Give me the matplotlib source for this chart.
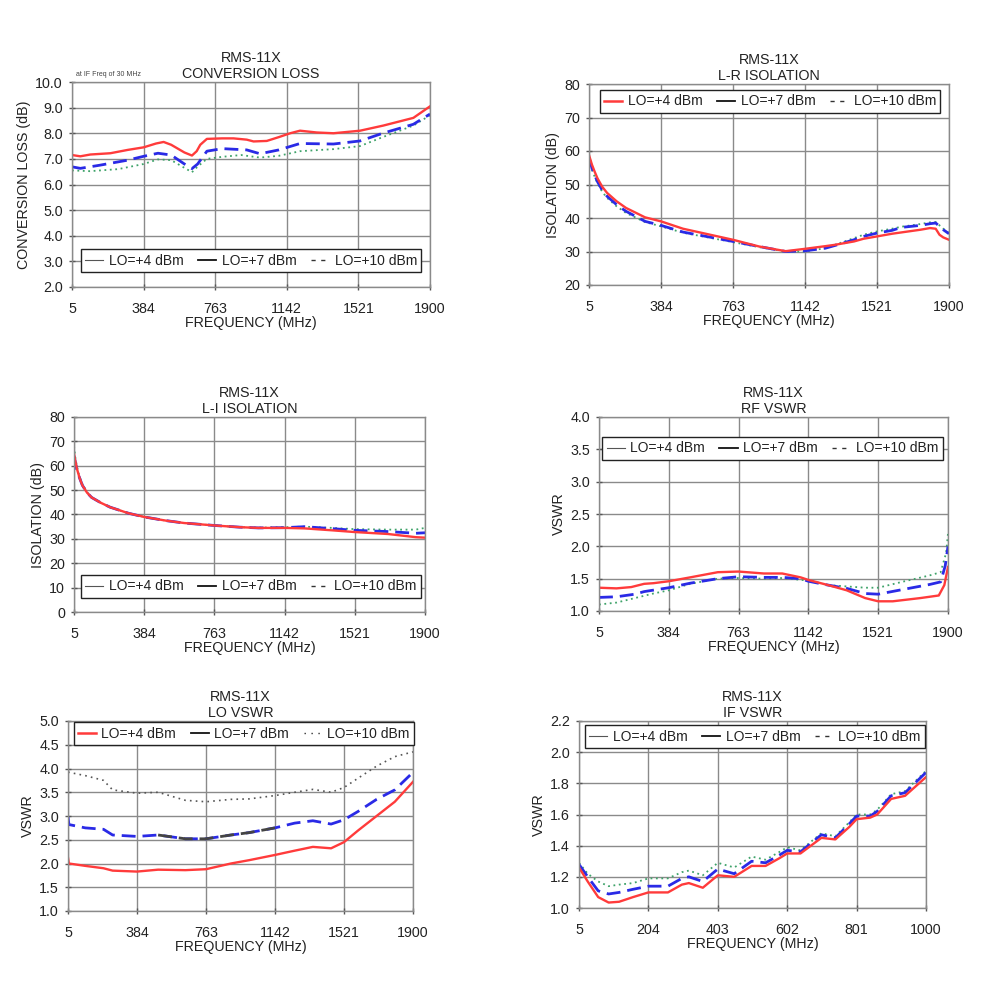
import matplotlib
matplotlib.use("Agg")
import matplotlib.pyplot as plt
from matplotlib.lines import Line2D

plt.rcParams['font.family'] = ['Liberation Sans', 'DejaVu Sans']

# ---------------- DATA ----------------
series_labels = ["LO=+4 dBm", "LO=+7 dBm", "LO=+10 dBm"]

# Conversion loss
cl_f4 = [5, 49, 102, 208, 300, 384, 450, 490, 530, 600, 640, 665, 684, 719, 800, 860, 930, 966, 1036, 1100, 1160, 1212, 1300, 1389, 1530, 1653, 1812, 1900]
cl_v4 = [7.15, 7.1, 7.17, 7.22, 7.35, 7.45, 7.6, 7.66, 7.55, 7.25, 7.13, 7.3, 7.55, 7.78, 7.8, 7.8, 7.75, 7.68, 7.7, 7.85, 8.0, 8.1, 8.03, 8.0, 8.1, 8.3, 8.6, 9.05]
cl_f7 = [5, 49, 150, 300, 384, 460, 530, 600, 640, 670, 719, 800, 930, 1000, 1100, 1212, 1389, 1530, 1650, 1812, 1900]
cl_v7 = [6.69, 6.63, 6.75, 6.95, 7.1, 7.22, 7.15, 6.8, 6.62, 6.8, 7.3, 7.4, 7.35, 7.2, 7.35, 7.6, 7.58, 7.7, 8.0, 8.35, 8.75]
cl_f10 = [5, 100, 250, 384, 460, 530, 600, 640, 670, 719, 800, 900, 1000, 1100, 1212, 1389, 1530, 1650, 1812, 1900]
cl_v10 = [6.55, 6.52, 6.6, 6.8, 6.98, 6.95, 6.65, 6.48, 6.7, 7.0, 7.08, 7.15, 7.05, 7.12, 7.3, 7.38, 7.5, 7.85, 8.3, 8.7]

# L-R isolation
lr_f = [5, 20, 35, 50, 75, 100, 150, 200, 300, 384, 500, 763, 900, 1040, 1142, 1250, 1300, 1400, 1450, 1521, 1600, 1650, 1750, 1800, 1830, 1850, 1870, 1900]
lr_v4 = [58.8, 56.0, 53.8, 51.8, 49.3, 47.5, 45.0, 43.0, 40.2, 39.0, 36.8, 33.5, 31.5, 30.1, 30.8, 31.6, 32.0, 33.0, 33.8, 34.5, 35.3, 35.7, 36.5, 37.0, 36.8, 35.0, 34.2, 33.5]
lr_v7 = [58.0, 55.0, 52.8, 50.8, 48.3, 46.5, 44.0, 42.0, 39.0, 37.8, 35.8, 33.0, 31.5, 30.0, 30.2, 31.0, 31.8, 33.5, 34.5, 35.5, 36.3, 37.2, 37.8, 38.3, 38.5, 37.5, 36.5, 35.3]
lr_v10 = [57.5, 54.5, 52.3, 50.3, 47.8, 46.0, 43.5, 41.5, 38.8, 37.5, 35.6, 32.8, 31.3, 30.0, 30.0, 31.0, 32.0, 34.0, 35.0, 36.0, 36.8, 37.4, 38.2, 38.7, 38.8, 37.8, 36.8, 35.5]

# L-I isolation
li_f = [5, 12, 20, 35, 50, 75, 100, 150, 200, 300, 384, 500, 600, 763, 900, 1000, 1142, 1250, 1400, 1521, 1700, 1850, 1900]
li_v4 = [65.0, 62.0, 59.0, 55.0, 52.0, 49.0, 47.0, 44.8, 43.0, 40.5, 39.0, 37.5, 36.5, 35.5, 34.8, 34.5, 34.5, 34.3, 33.5, 32.8, 32.0, 30.7, 30.5]
li_v7 = [64.0, 61.5, 58.5, 55.0, 52.0, 49.0, 47.0, 44.8, 43.0, 40.5, 39.0, 37.5, 36.5, 35.5, 34.8, 34.5, 34.6, 35.0, 34.2, 33.5, 33.0, 32.3, 32.5]
li_v10 = [68.0, 63.5, 60.0, 55.5, 52.5, 49.2, 47.0, 44.8, 43.0, 40.5, 39.0, 37.5, 36.5, 35.5, 34.8, 34.6, 34.8, 35.0, 34.5, 34.0, 33.8, 33.8, 34.5]

# RF VSWR
rf_f4 = [5, 100, 180, 250, 300, 384, 500, 650, 763, 900, 1000, 1100, 1142, 1250, 1350, 1450, 1521, 1600, 1750, 1850, 1880, 1900]
rf_v4 = [1.36, 1.35, 1.37, 1.42, 1.43, 1.46, 1.52, 1.6, 1.61, 1.58, 1.58, 1.52, 1.48, 1.4, 1.32, 1.2, 1.15, 1.15, 1.2, 1.24, 1.4, 1.68]
rf_f7 = [5, 100, 200, 250, 384, 500, 650, 763, 900, 1000, 1100, 1142, 1250, 1350, 1450, 1521, 1650, 1800, 1860, 1885, 1900]
rf_v7 = [1.21, 1.22, 1.26, 1.3, 1.36, 1.43, 1.5, 1.53, 1.52, 1.52, 1.5, 1.46, 1.4, 1.35, 1.27, 1.26, 1.33, 1.41, 1.45, 1.7, 2.0]
rf_f10 = [5, 100, 200, 300, 384, 500, 650, 763, 900, 1000, 1142, 1250, 1350, 1450, 1521, 1650, 1800, 1860, 1890, 1900]
rf_v10 = [1.1, 1.13, 1.2, 1.27, 1.32, 1.42, 1.5, 1.51, 1.5, 1.51, 1.47, 1.4, 1.38, 1.36, 1.36, 1.45, 1.55, 1.6, 1.9, 2.2]

# LO VSWR
lo_f = [5, 10, 100, 200, 250, 384, 500, 650, 763, 900, 1000, 1142, 1250, 1350, 1450, 1521, 1600, 1700, 1800, 1900]
lo_v4 = [2.12, 2.0, 1.95, 1.9, 1.85, 1.83, 1.87, 1.86, 1.88, 2.0, 2.07, 2.18, 2.27, 2.35, 2.32, 2.45, 2.7, 3.0, 3.3, 3.72]
lo_v7 = [2.98, 2.82, 2.75, 2.72, 2.6, 2.57, 2.6, 2.52, 2.52, 2.6, 2.65, 2.75, 2.85, 2.9, 2.83, 2.92, 3.1, 3.35, 3.55, 3.92]
lo_v10 = [3.92, 3.92, 3.85, 3.75, 3.55, 3.48, 3.5, 3.33, 3.3, 3.35, 3.36, 3.43, 3.5, 3.56, 3.5, 3.6, 3.8, 4.05, 4.25, 4.35]
lo_gray_from = 420   # section of the +7 trace printed in gray
lo_gray_to = 1180

# IF VSWR
if_f = [5, 30, 60, 90, 120, 160, 204, 260, 300, 320, 360, 403, 450, 500, 540, 580, 602, 640, 700, 740, 780, 801, 840, 860, 900, 940, 1000]
if_v4 = [1.26, 1.17, 1.07, 1.035, 1.04, 1.07, 1.1, 1.1, 1.15, 1.16, 1.13, 1.21, 1.2, 1.27, 1.27, 1.32, 1.35, 1.35, 1.45, 1.44, 1.52, 1.57, 1.58, 1.6, 1.7, 1.72, 1.84]
if_v7 = [1.28, 1.2, 1.11, 1.09, 1.1, 1.12, 1.14, 1.14, 1.19, 1.2, 1.17, 1.25, 1.22, 1.3, 1.29, 1.34, 1.37, 1.36, 1.47, 1.45, 1.54, 1.59, 1.59, 1.62, 1.72, 1.74, 1.87]
if_v10 = [1.29, 1.22, 1.17, 1.14, 1.15, 1.16, 1.19, 1.19, 1.23, 1.24, 1.21, 1.29, 1.26, 1.33, 1.31, 1.36, 1.39, 1.37, 1.48, 1.46, 1.55, 1.6, 1.6, 1.63, 1.73, 1.75, 1.88]

freq_ticks = [5, 384, 763, 1142, 1521, 1900]
if_ticks = [5, 204, 403, 602, 801, 1000]

# ---------------- STYLE ----------------
RED = '#ff3b3b'
BLUE = '#2a2ae6'
GREEN = '#3fa36a'
GRIDC = '#8a8a8a'
FS = 10.3
LFS = 10.0

fig = plt.figure(figsize=(9.9, 9.9), dpi=100)


def make_ax(x0, x1, ytop, ybot):
    return fig.add_axes([x0 / 990, 1 - ybot / 990, (x1 - x0) / 990, (ybot - ytop) / 990])


def style(ax, title, ylabel, xticks, yticks, yfmt):
    ax.set_xlim(xticks[0], xticks[-1])
    ax.set_ylim(yticks[0], yticks[-1])
    ax.set_xticks(xticks)
    ax.set_xticklabels([str(t) for t in xticks])
    ax.set_yticks(yticks)
    ax.set_yticklabels([yfmt.format(t) for t in yticks])
    ax.grid(True, color=GRIDC, lw=1.0)
    ax.set_axisbelow(True)
    for s in ax.spines.values():
        s.set_color(GRIDC)
        s.set_linewidth(1.0)
    ax.tick_params(direction='inout', length=5, width=1, color='#555', labelsize=FS,
                   labelcolor='#222')
    ax.tick_params(axis='x', pad=8)
    ax.tick_params(axis='y', pad=4)
    ax.set_title(title, fontsize=FS, pad=3, linespacing=1.2, color='#222')
    ax.set_ylabel(ylabel, fontsize=FS, labelpad=3, color='#222')
    ax.set_xlabel("FREQUENCY (MHz)", fontsize=FS, labelpad=0, color='#222')


def legend(ax, center, first_red=False, third='dash'):
    h1 = Line2D([], [], color=RED if first_red else '#555', lw=1.8 if first_red else 0.8)
    h2 = Line2D([], [], color='#111', lw=1.3)
    if third == 'dot':
        h3 = Line2D([], [], color='#333', lw=1.0, ls=(0, (1, 4)))
    else:
        h3 = Line2D([], [], color='#333', lw=1.0, ls=(0, (3, 4)))
    leg = ax.legend([h1, h2, h3], series_labels, ncol=3, loc='center',
                    bbox_to_anchor=center, fontsize=LFS, frameon=True,
                    fancybox=False, edgecolor='#222', framealpha=1, handlelength=1.3,
                    handletextpad=0.4, columnspacing=1.05, borderpad=0.3, borderaxespad=0)
    leg.get_frame().set_linewidth(1.0)
    for t in leg.get_texts():
        t.set_color('#222')


def three(ax, f4, v4, f7, v7, f10, v10, c10=GREEN):
    ax.plot(f10, v10, color=c10, lw=1.3, ls=(0, (1, 2)))
    ax.plot(f7, v7, color=BLUE, lw=2.0, ls=(0, (5, 2.5)))
    ax.plot(f4, v4, color=RED, lw=1.7)


# 1 Conversion loss
ax1 = make_ax(72, 430, 82, 287)
three(ax1, cl_f4, cl_v4, cl_f7, cl_v7, cl_f10, cl_v10)
style(ax1, "RMS-11X\nCONVERSION LOSS", "CONVERSION LOSS (dB)", freq_ticks,
      [2, 3, 4, 5, 6, 7, 8, 9, 10], "{:.1f}")
legend(ax1, (0.5, 0.129))
ax1.text(0.01, 1.02, "at IF Freq of 30 MHz", transform=ax1.transAxes, fontsize=5,
         color='#444', ha='left', va='bottom')

# 2 L-R isolation
ax2 = make_ax(589, 949, 84, 285)
three(ax2, lr_f, lr_v4, lr_f, lr_v7, lr_f, lr_v10)
style(ax2, "RMS-11X\nL-R ISOLATION", "ISOLATION (dB)", freq_ticks,
      [20, 30, 40, 50, 60, 70, 80], "{:d}")
legend(ax2, (0.503, 0.913), first_red=True)

# 3 L-I isolation
ax3 = make_ax(74, 425, 417, 612)
three(ax3, li_f, li_v4, li_f, li_v7, li_f, li_v10)
style(ax3, "RMS-11X\nL-I ISOLATION", "ISOLATION (dB)", freq_ticks,
      [0, 10, 20, 30, 40, 50, 60, 70, 80], "{:d}")
legend(ax3, (0.504, 0.131))

# 4 RF VSWR
ax4 = make_ax(599, 948, 417, 611)
three(ax4, rf_f4, rf_v4, rf_f7, rf_v7, rf_f10, rf_v10)
style(ax4, "RMS-11X\nRF VSWR", "VSWR", freq_ticks,
      [1.0, 1.5, 2.0, 2.5, 3.0, 3.5, 4.0], "{:.1f}")
legend(ax4, (0.497, 0.838))

# 5 LO VSWR
ax5 = make_ax(68, 413, 721, 911)
ax5.plot(lo_f, lo_v10, color='#555', lw=1.2, ls=(0, (1, 2.5)))
ax5.plot(lo_f, lo_v7, color=BLUE, lw=2.0, ls=(0, (5, 2.5)))
gf = [f for f in lo_f if lo_gray_from <= f <= lo_gray_to]
gv = [v for f, v in zip(lo_f, lo_v7) if lo_gray_from <= f <= lo_gray_to]
ax5.plot(gf, gv, color='#444', lw=2.0, ls=(0, (5, 2.5)))
ax5.plot(lo_f, lo_v4, color=RED, lw=1.7)
style(ax5, "RMS-11X\nLO VSWR", "VSWR", freq_ticks,
      [1.0, 1.5, 2.0, 2.5, 3.0, 3.5, 4.0, 4.5, 5.0], "{:.1f}")
legend(ax5, (0.509, 0.934), first_red=True, third='dot')

# 6 IF VSWR
ax6 = make_ax(579, 926, 721, 908)
three(ax6, if_f, if_v4, if_f, if_v7, if_f, if_v10)
style(ax6, "RMS-11X\nIF VSWR", "VSWR", if_ticks,
      [1.0, 1.2, 1.4, 1.6, 1.8, 2.0, 2.2], "{:.1f}")
legend(ax6, (0.507, 0.917))

fig.savefig("out.png", dpi=100, facecolor='white')
